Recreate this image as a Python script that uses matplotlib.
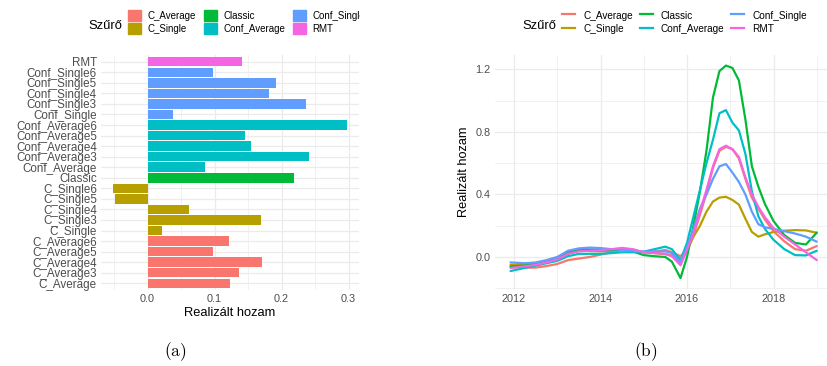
import matplotlib
matplotlib.use("Agg")
import matplotlib.pyplot as plt
from matplotlib.patches import Patch
from matplotlib.lines import Line2D
from matplotlib.transforms import Bbox, TransformedBbox
from matplotlib.ticker import MultipleLocator

plt.rcParams['font.family'] = ['Liberation Sans', 'DejaVu Sans']
plt.rcParams['mathtext.fontset'] = 'cm'

# ---- panel (a): realised return per filter ----
bar_labels = ['C_Average', 'C_Average3', 'C_Average4', 'C_Average5', 'C_Average6',
              'C_Single', 'C_Single3', 'C_Single4', 'C_Single5', 'C_Single6',
              'Classic',
              'Conf_Average', 'Conf_Average3', 'Conf_Average4', 'Conf_Average5', 'Conf_Average6',
              'Conf_Single', 'Conf_Single3', 'Conf_Single4', 'Conf_Single5', 'Conf_Single6',
              'RMT']
bar_values = [0.123, 0.137, 0.171, 0.098, 0.121,
              0.021, 0.170, 0.062, -0.049, -0.052,
              0.218,
              0.086, 0.241, 0.155, 0.146, 0.298,
              0.038, 0.236, 0.181, 0.192, 0.098,
              0.1415]
bar_groups = ['C_Average'] * 5 + ['C_Single'] * 5 + ['Classic'] + \
             ['Conf_Average'] * 5 + ['Conf_Single'] * 5 + ['RMT']

groups = ['C_Average', 'C_Single', 'Classic', 'Conf_Average', 'Conf_Single', 'RMT']
colors = {'C_Average': '#F8766D', 'C_Single': '#B79F00', 'Classic': '#00BA38',
          'Conf_Average': '#00BFC4', 'Conf_Single': '#619CFF', 'RMT': '#F564E3'}

# ---- panel (b): smoothed realised return over time ----
years = [2011.92, 2012.25, 2012.5, 2012.75, 2013.0, 2013.25, 2013.5, 2013.75,
         2014.0, 2014.25, 2014.5, 2014.75, 2015.0, 2015.25, 2015.5, 2015.65,
         2015.85, 2016.0, 2016.15, 2016.3, 2016.45, 2016.6, 2016.75, 2016.9,
         2017.05, 2017.2, 2017.35, 2017.5, 2017.65, 2017.8, 2018.0, 2018.25,
         2018.5, 2018.75, 2019.0]
c_average = [-0.065, -0.068, -0.068, -0.058, -0.045, -0.02, -0.01, 0.0,
             0.015, 0.03, 0.045, 0.045, 0.03, 0.035, 0.045, 0.03,
             0.005, 0.045, 0.14, 0.27, 0.41, 0.57, 0.68, 0.705,
             0.69, 0.63, 0.50, 0.38, 0.31, 0.24, 0.165, 0.10,
             0.05, 0.04, 0.07]
c_single = [-0.05, -0.05, -0.045, -0.03, -0.015, 0.02, 0.04, 0.038,
            0.036, 0.04, 0.047, 0.045, 0.03, 0.025, 0.018, 0.01,
            -0.035, 0.04, 0.13, 0.2, 0.29, 0.355, 0.38, 0.385,
            0.365, 0.335, 0.245, 0.16, 0.13, 0.145, 0.16, 0.168,
            0.172, 0.17, 0.155]
classic = [-0.06, -0.055, -0.045, -0.03, -0.01, 0.03, 0.048, 0.048,
           0.046, 0.045, 0.047, 0.035, 0.012, 0.005, 0.0, -0.03,
           -0.135, 0.0, 0.2, 0.42, 0.68, 1.02, 1.19, 1.225,
           1.21, 1.13, 0.88, 0.58, 0.45, 0.34, 0.23, 0.14,
           0.09, 0.08, 0.156]
conf_average = [-0.09, -0.07, -0.055, -0.04, -0.025, 0.005, 0.02, 0.02,
                0.02, 0.025, 0.03, 0.03, 0.034, 0.05, 0.066, 0.05,
                -0.02, 0.09, 0.26, 0.43, 0.6, 0.75, 0.92, 0.94,
                0.86, 0.81, 0.66, 0.42, 0.26, 0.18, 0.11, 0.05,
                0.012, 0.01, 0.04]
conf_single = [-0.035, -0.04, -0.035, -0.02, 0.0, 0.04, 0.055, 0.06,
               0.057, 0.05, 0.045, 0.04, 0.034, 0.035, 0.036, 0.025,
               -0.03, 0.06, 0.18, 0.31, 0.40, 0.50, 0.58, 0.595,
               0.54, 0.48, 0.40, 0.29, 0.21, 0.19, 0.18, 0.165,
               0.15, 0.13, 0.098]
rmt = [-0.07, -0.06, -0.05, -0.035, -0.015, 0.02, 0.036, 0.04,
       0.043, 0.05, 0.058, 0.05, 0.03, 0.025, 0.02, 0.005,
       -0.053, 0.045, 0.15, 0.29, 0.43, 0.58, 0.69, 0.712,
       0.69, 0.64, 0.51, 0.40, 0.32, 0.255, 0.185, 0.13,
       0.08, 0.03, -0.02]
series = {'C_Average': c_average, 'C_Single': c_single, 'Classic': classic,
          'Conf_Average': conf_average, 'Conf_Single': conf_single, 'RMT': rmt}

W, H = 827, 366
fig = plt.figure(figsize=(W / 100, H / 100), dpi=100)
fig.patch.set_facecolor('white')

grid_col = '#EBEBEB'
txt_col = '#4D4D4D'


def px_axes(x0, y0, x1, y1):
    return fig.add_axes([x0 / W, 1 - y1 / H, (x1 - x0) / W, (y1 - y0) / H])


def minimal(ax):
    for s in ax.spines.values():
        s.set_visible(False)
    ax.set_facecolor('white')
    ax.grid(True, which='major', color=grid_col, lw=0.9)
    ax.grid(True, which='minor', color=grid_col, lw=0.5)
    ax.set_axisbelow(True)
    ax.tick_params(which='both', length=0, colors=txt_col, labelsize=7.8, pad=3.5)


# panel (a)
ax1 = px_axes(101, 55.4, 359, 289.6)
minimal(ax1)
pos = list(range(len(bar_labels)))
ax1.barh(pos, bar_values, height=0.9, color=[colors[g] for g in bar_groups])
ax1.set_yticks(pos)
ax1.set_yticklabels(bar_labels, fontsize=8.4)
ax1.set_ylim(-0.6, len(bar_labels) - 0.4)
ax1.set_xlim(-0.0695, 0.3155)
ax1.xaxis.set_minor_locator(MultipleLocator(0.05))
ax1.set_xticks([0.0, 0.1, 0.2, 0.3])
ax1.set_xticklabels(['0.0', '0.1', '0.2', '0.3'])
ax1.tick_params(axis='y', pad=3)
ax1.set_xlabel('Realizált hozam', fontsize=9.3, color='black', labelpad=2)

fig.text(88 / W, 1 - 26 / H, 'Szűrő', fontsize=9.4, va='center', ha='left')
leg1 = fig.legend([Patch(color=colors[g]) for g in groups], groups, ncol=3,
                  loc='upper left', bbox_to_anchor=(128 / W, 1 - 10 / H),
                  frameon=False, fontsize=7, handlelength=1.35, handleheight=1.35,
                  handletextpad=0.7, columnspacing=0.75, labelspacing=0.2,
                  borderpad=0, borderaxespad=0)
clip = TransformedBbox(Bbox([[0, 0], [3.6, H / 100]]), fig.dpi_scale_trans)
for t in leg1.get_texts():
    t.set_clip_on(True)
    t.set_clip_box(clip)

# panel (b)
ax2 = px_axes(495.4, 54.8, 831.9, 288.7)
minimal(ax2)
for g in groups:
    ax2.plot(years, series[g], color=colors[g], lw=1.6, solid_capstyle='round')
ax2.set_xlim(2011.57, 2019.35)
ax2.set_ylim(-0.203, 1.294)
ax2.xaxis.set_minor_locator(MultipleLocator(1))
ax2.yaxis.set_minor_locator(MultipleLocator(0.2))
ax2.set_xticks([2012, 2014, 2016, 2018])
ax2.set_xticklabels(['2012', '2014', '2016', '2018'])
ax2.set_yticks([0.0, 0.4, 0.8, 1.2])
ax2.set_yticklabels(['0.0', '0.4', '0.8', '1.2'])
ax2.set_ylabel('Realizált hozam', fontsize=9.2, color='black', labelpad=4)

fig.text(522 / W, 1 - 26 / H, 'Szűrő', fontsize=9.4, va='center', ha='left')
fig.legend([Line2D([], [], color=colors[g], lw=1.6) for g in groups], groups, ncol=3,
           loc='upper left', bbox_to_anchor=(562 / W, 1 - 10 / H),
           frameon=False, fontsize=7.2, handlelength=1.3, handleheight=1.35,
           handletextpad=0.8, columnspacing=0.7, labelspacing=0.2,
           borderpad=0, borderaxespad=0)

# captions
fig.text(175 / W, 1 - 352 / H, r'$\mathrm{(a)}$', fontsize=12.5, ha='center', va='center')
fig.text(646 / W, 1 - 352 / H, r'$\mathrm{(b)}$', fontsize=12.5, ha='center', va='center')

fig.savefig('out.png', dpi=100, facecolor='white')
